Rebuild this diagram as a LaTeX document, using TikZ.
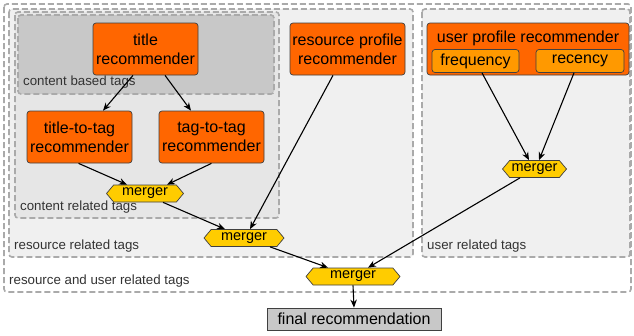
\documentclass[tikz,border=0pt]{standalone}
\usepackage{fontspec}
\setmainfont{Liberation Sans}
\usetikzlibrary{shapes.symbols,arrows.meta}
\definecolor{orng}{HTML}{FF6600}
\definecolor{lorng}{HTML}{FF9900}
\definecolor{yel}{HTML}{FFCC00}
\definecolor{bord}{HTML}{404040}
\definecolor{dsh}{HTML}{AAAAAA}
\definecolor{gA}{HTML}{C8C8C8}
\definecolor{gB}{HTML}{E6E6E6}
\definecolor{gC}{HTML}{F0F0F0}
\definecolor{lbl}{HTML}{333333}
\tikzset{
  grp/.style={draw=dsh, line width=1.6pt, dash pattern=on 6pt off 3pt, rounded corners=3pt},
  grplabel/.style={anchor=west, text=lbl, font=\fontsize{13.3}{15}\selectfont, inner sep=0pt},
  recbox/.style={draw=bord, fill=orng, rounded corners=3pt, line width=0.7pt, align=center,
     font=\fontsize{16}{19}\selectfont, inner sep=0pt},
  subbox/.style={draw=bord, fill=lorng, rounded corners=3pt, line width=0.7pt,
     font=\fontsize{16}{19}\selectfont, inner sep=0pt, minimum height=23pt},
  mergerbox/.style={shape=signal, signal to=east and west, signal pointer angle=100, draw=bord, fill=yel,
     line width=0.7pt, font=\fontsize{14.5}{16}\selectfont, inner sep=0pt, minimum height=17pt},
  finalbox/.style={draw=bord, fill=gA, line width=0.8pt, font=\fontsize{16}{19}\selectfont,
     inner sep=0pt, minimum width=174pt, minimum height=22pt},
  flow/.style={draw=black, line width=1.1pt, -{Stealth[length=8pt,width=6.5pt]}}
}
\begin{document}
\begin{tikzpicture}[x=1pt,y=-1pt]
\useasboundingbox (0,0) rectangle (634,335);
% group boxes
\draw[grp, fill=white] (4,4) rectangle (631,292);
\draw[grp, fill=gC] (9,9) rectangle (413,257);
\draw[grp, fill=gC] (422,9) rectangle (630,257);
\draw[grp, fill=gB] (15,12) rectangle (279,218);
\draw[grp, fill=gA] (18,15) rectangle (274,94);
% group labels
\node[grplabel] (lcb) at (23,82) {content based tags};
\node[grplabel] (lcr) at (20,207) {content related tags};
\node[grplabel] (lrr) at (14,246) {resource related tags};
\node[grplabel] (lur) at (427,246) {user related tags};
\node[grplabel] (lru) at (9,281) {resource and user related tags};
% recommenders
\node[recbox, minimum width=105pt, minimum height=52pt] (title) at (145.5,49) {title\\recommender};
\node[recbox, minimum width=105pt, minimum height=52pt] (t2t) at (79.5,137) {title-to-tag\\recommender};
\node[recbox, minimum width=105pt, minimum height=52pt] (tag2tag) at (211.5,137) {tag-to-tag\\recommender};
\node[recbox, minimum width=115pt, minimum height=52pt] (rp) at (347.5,49) {resource profile\\recommender};
\node[recbox, minimum width=202pt, minimum height=52pt,
      label={[anchor=north, inner sep=0pt, font=\fontsize{16}{19}\selectfont, yshift=-8.5pt]north:user profile recommender}] (up) at (528,49) {};
\node[subbox, minimum width=87pt] (freq) at (475.5,61) {frequency};
\node[subbox, minimum width=88pt] (rec) at (580,61) {recency};
% mergers
\node[mergerbox, minimum width=77pt] (cm) at (145,193.5) {merger};
\node[mergerbox, minimum width=80pt] (rm) at (244,238) {merger};
\node[mergerbox, minimum width=64pt] (um) at (534.5,169) {merger};
\node[mergerbox, minimum width=94pt] (fm) at (353,276.5) {merger};
% final
\node[finalbox] (final) at (354,319) {final recommendation};
% connectors
\draw[flow] ([xshift=-12.5pt]title.south) -- ([xshift=23.5pt]t2t.north);
\draw[flow] ([xshift=19.5pt]title.south) -- ([xshift=-20.5pt]tag2tag.north);
\draw[flow] ([xshift=-1pt]t2t.south) -- ([xshift=-18pt]cm.north);
\draw[flow] ([xshift=0pt]tag2tag.south) -- ([xshift=22pt]cm.north);
\draw[flow] ([xshift=18pt]cm.south) -- ([xshift=-19pt]rm.north);
\draw[flow] ([xshift=-14.5pt]rp.south) -- ([xshift=6pt]rm.north);
\draw[flow] ([xshift=26pt]rm.south) -- ([xshift=-25pt]fm.north);
\draw[flow] ([xshift=-14.5pt]um.south) -- ([xshift=15pt]fm.north);
\draw[flow] ([xshift=6.5pt]freq.south) -- ([xshift=-5.5pt]um.north);
\draw[flow] ([xshift=-6pt]rec.south) -- ([xshift=4.5pt]um.north);
\draw[flow] (fm.south) -- (final.north);
\end{tikzpicture}
\end{document}
